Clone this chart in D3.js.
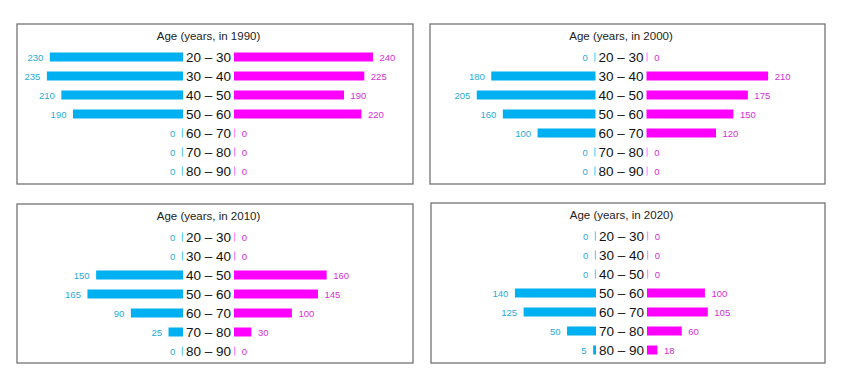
<!DOCTYPE html>
<html>
<head>
<meta charset="utf-8">
<script src="https://cdn.jsdelivr.net/npm/d3@7"></script>
<style>
  body { margin: 0; background: #fff; }
  text { font-family: "Liberation Sans", Arial, sans-serif; }
</style>
</head>
<body>
<div id="container"></div>
<script>
/* 1. DATA */
const ageGroups = ["20 – 30","30 – 40","40 – 50","50 – 60","60 – 70","70 – 80","80 – 90"];
const years = [1990, 2000, 2010, 2020];

const blue1990 = [230, 235, 210, 190, 0, 0, 0];
const pink1990 = [240, 225, 190, 220, 0, 0, 0];
const blue2000 = [0, 180, 205, 160, 100, 0, 0];
const pink2000 = [0, 210, 175, 150, 120, 0, 0];
const blue2010 = [0, 0, 150, 165, 90, 25, 0];
const pink2010 = [0, 0, 160, 145, 100, 30, 0];
const blue2020 = [0, 0, 0, 140, 125, 50, 5];
const pink2020 = [0, 0, 0, 100, 105, 60, 18];

const blueSeries = [blue1990, blue2000, blue2010, blue2020];
const pinkSeries = [pink1990, pink2000, pink2010, pink2020];

/* 2. CONSTANTS */
const width = 851, height = 377;
const blueColor = "#00b0f0", pinkColor = "#ff00ff";
const blueText = "#2aaad8", pinkText = "#d42fd4";
const gapHalf = 25.5;     // half the space kept for the age label
const barH = 9;

// panel boxes: left, top, width, height
const panels = [
  {x: 17,  y: 24,  w: 396, h: 160},
  {x: 430, y: 24,  w: 395, h: 160},
  {x: 17,  y: 204, w: 396, h: 159},
  {x: 431, y: 203, w: 394, h: 160}
];

const svg = d3.select("#container")
              .append("svg")
              .attr("width", width)
              .attr("height", height);

const xScale = d3.scaleLinear().domain([0, 240]).range([0, 139]);
const yScale = d3.scalePoint().domain(ageGroups).range([33, 147]);

panels.forEach((p, k) => {
  const g = svg.append("g").attr("transform", `translate(${p.x},${p.y})`);
  const cx = p.w / 2 - 6.5;

  g.append("rect")
   .attr("x", 0).attr("y", 0)
   .attr("width", p.w).attr("height", p.h)
   .attr("fill", "#fff")
   .attr("stroke", "#737373")
   .attr("stroke-width", 1.3);

  g.append("text")
   .attr("x", cx).attr("y", 16)
   .attr("text-anchor", "middle")
   .attr("font-size", "11.5px")
   .attr("fill", "#222")
   .text(`Age (years, in ${years[k]})`);

  const rows = ageGroups.map((a, i) => ({age: a, b: blueSeries[k][i], p: pinkSeries[k][i]}));

  // age labels
  g.selectAll("text.age")
   .data(rows)
   .join("text")
   .attr("class", "age")
   .attr("x", cx)
   .attr("y", d => yScale(d.age) + 5)
   .attr("text-anchor", "middle")
   .attr("font-size", "13.5px")
   .attr("fill", "#111")
   .text(d => d.age);

  // blue bars (left)
  g.selectAll("rect.blue")
   .data(rows)
   .join("rect")
   .attr("class", "blue")
   .attr("x", d => cx - gapHalf - Math.max(xScale(d.b), 1.2))
   .attr("y", d => yScale(d.age) - barH / 2)
   .attr("width", d => Math.max(xScale(d.b), 1.2))
   .attr("height", barH)
   .attr("fill", blueColor)
   .attr("opacity", d => d.b === 0 ? 0.6 : 1);

  // pink bars (right)
  g.selectAll("rect.pink")
   .data(rows)
   .join("rect")
   .attr("class", "pink")
   .attr("x", cx + gapHalf)
   .attr("y", d => yScale(d.age) - barH / 2)
   .attr("width", d => Math.max(xScale(d.p), 1.2))
   .attr("height", barH)
   .attr("fill", pinkColor)
   .attr("opacity", d => d.p === 0 ? 0.45 : 1);

  // value labels
  g.selectAll("text.bval")
   .data(rows)
   .join("text")
   .attr("class", "bval")
   .attr("x", d => cx - gapHalf - Math.max(xScale(d.b), 1.2) - 6.5)
   .attr("y", d => yScale(d.age) + 3.5)
   .attr("text-anchor", "end")
   .attr("font-size", "9.5px")
   .attr("fill", blueText)
   .text(d => d.b);

  g.selectAll("text.pval")
   .data(rows)
   .join("text")
   .attr("class", "pval")
   .attr("x", d => cx + gapHalf + Math.max(xScale(d.p), 1.2) + 6.5)
   .attr("y", d => yScale(d.age) + 3.5)
   .attr("text-anchor", "start")
   .attr("font-size", "9.5px")
   .attr("fill", pinkText)
   .text(d => d.p);
});
</script>
</body>
</html>
